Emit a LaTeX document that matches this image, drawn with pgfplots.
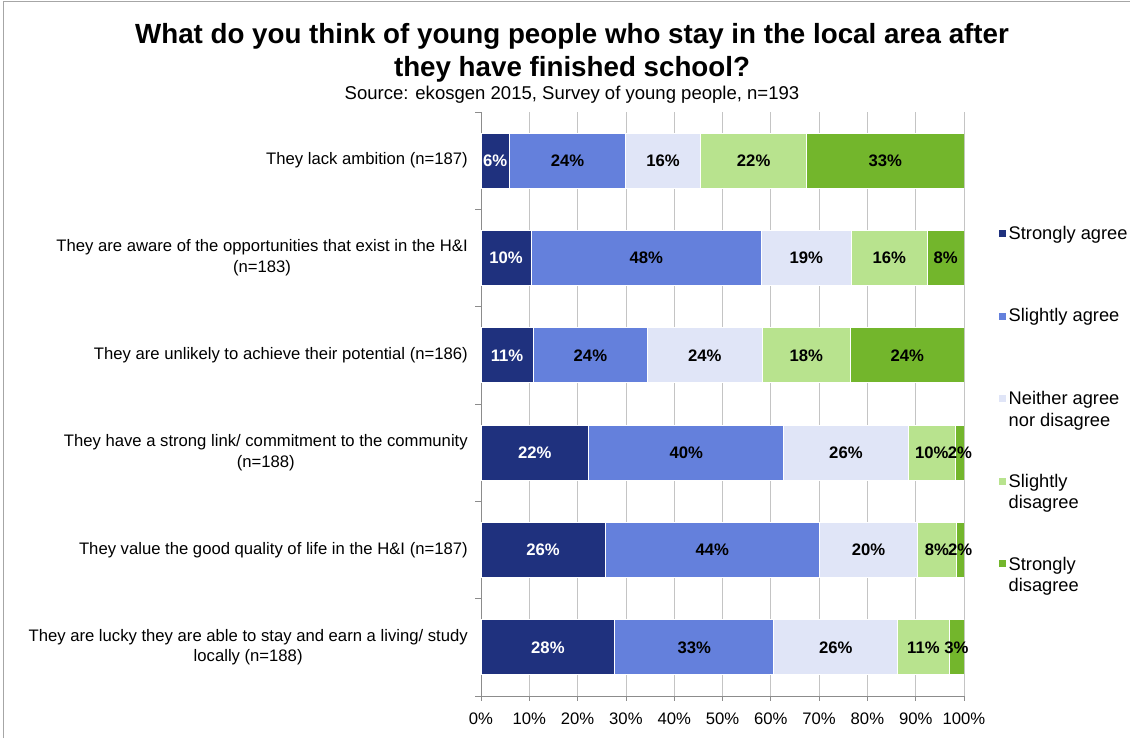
\documentclass[border=0pt]{standalone}
\usepackage{fontspec}
\setmainfont{Liberation Sans}
\usepackage{pgfplots}
\usepackage{pgfplotstable}
\pgfplotsset{compat=1.18}

\definecolor{cSA}{HTML}{1F317E}
\definecolor{cSlA}{HTML}{6480DC}
\definecolor{cN}{HTML}{E0E5F7}
\definecolor{cSlD}{HTML}{B8E38E}
\definecolor{cSD}{HTML}{73B62C}
\definecolor{gridc}{HTML}{C4C4C4}
\definecolor{axisc}{HTML}{8C8C8C}

\newcommand\lblfont{\fontsize{12.5}{15.5}\selectfont}
\newcommand\legfont{\fontsize{13.7}{15.8}\selectfont}

% y: 5 = top row ... 0 = bottom row
\pgfplotstableread{
y  SA    SlA   N     SlD   SD
5  5.9   24.0  15.6  21.9  32.6
4  10.4  47.6  18.7  15.7  7.6
3  10.8  23.7  23.7  18.3  23.5
2  22.3  40.4  25.7  9.9   1.7
1  25.7  44.4  20.3  8.0   1.6
0  27.7  32.9  25.7  10.6  3.1
}\data

\begin{document}
\begin{tikzpicture}
\path[use as bounding box] (0,0) rectangle (847.5pt,553.5pt);
\draw[gray!70, line width=0.75pt] (2.25pt,0) -- (2.25pt,552pt) -- (847.5pt,552pt);
\node[anchor=base, font=\fontsize{20.8}{24}\selectfont\bfseries] at (429pt,520.5pt) {What do you think of young people who stay in the local area after};
\node[anchor=base, font=\fontsize{20.8}{24}\selectfont\bfseries] at (429pt,496pt) {they have finished school?};
\node[anchor=base, font=\fontsize{13.9}{16}\selectfont] at (429pt,478.5pt) {Source: ekosgen 2015, Survey of young people, n=193};

\begin{axis}[
  at={(360.75pt,31.5pt)}, anchor=south west,
  scale only axis, width=362.25pt, height=438pt,
  xbar stacked, bar width=41.25pt,
  xmin=0, xmax=100, ymin=-0.5, ymax=5.5,
  axis x line*=bottom, axis y line*=left,
  axis line style={axisc, -, line width=0.6pt},
  xtick={0,10,...,100},
  xticklabels={0\%,10\%,20\%,30\%,40\%,50\%,60\%,70\%,80\%,90\%,100\%},
  xmajorgrids, major grid style={gridc, line width=0.6pt},
  ytick={0,...,5},
  minor ytick={-0.5,0.5,...,5.5},
  yticklabels={
    {They are lucky they are able to stay and earn a living/ study\\locally (n=188)},
    {They value the good quality of life in the H\&I (n=187)},
    {They have a strong link/ commitment to the community\\(n=188)},
    {They are unlikely to achieve their potential (n=186)},
    {They are aware of the opportunities that exist in the H\&I\\(n=183)},
    {They lack ambition (n=187)}},
  tick align=outside, major tick length=3.75pt, minor tick length=4.5pt,
  xtick style={axisc, line width=0.6pt},
  major y tick style={draw=none},
  minor y tick style={draw=axisc, line width=0.6pt},
  ticklabel style={font=\lblfont},
  yticklabel style={align=center, inner sep=0pt, xshift=-6pt},
  xticklabel style={yshift=-5pt},
  nodes near coords={\pgfmathprintnumber[fixed,precision=0,assume math mode=true]{\rawx}\%},
  every node near coord/.append style={anchor=center, font=\lblfont\bfseries, text=black},
  legend style={at={(1.072,0.81)}, anchor=north west, draw=none, fill=none, inner sep=0pt,
    row sep={61.9pt,between origins}, font=\legfont},
  legend cell align=left,
  legend image code/.code={\fill[#1,draw=none] (0pt,-2.625pt) rectangle (5.25pt,2.625pt);},
]
\addplot[fill=cSA, draw=white, line width=0.6pt, nodes near coords style={text=white},
  visualization depends on={\thisrow{SA} \as \rawx}]
  table[x=SA, y=y] {\data};
\addplot[fill=cSlA, draw=white, line width=0.6pt,
  visualization depends on={\thisrow{SlA} \as \rawx}]
  table[x=SlA, y=y] {\data};
\addplot[fill=cN, draw=white, line width=0.6pt,
  visualization depends on={\thisrow{N} \as \rawx}]
  table[x=N, y=y] {\data};
\addplot[fill=cSlD, draw=white, line width=0.6pt,
  visualization depends on={\thisrow{SlD} \as \rawx}]
  table[x=SlD, y=y] {\data};
\addplot[fill=cSD, draw=white, line width=0.6pt,
  visualization depends on={\thisrow{SD} \as \rawx}]
  table[x=SD, y=y] {\data};
\legend{Strongly agree, Slightly agree,
  {\begin{tabular}[t]{@{}l@{}}Neither agree\\nor disagree\end{tabular}},
  {\begin{tabular}[t]{@{}l@{}}Slightly\\disagree\end{tabular}},
  {\begin{tabular}[t]{@{}l@{}}Strongly\\disagree\end{tabular}}}
\end{axis}
\end{tikzpicture}
\end{document}
